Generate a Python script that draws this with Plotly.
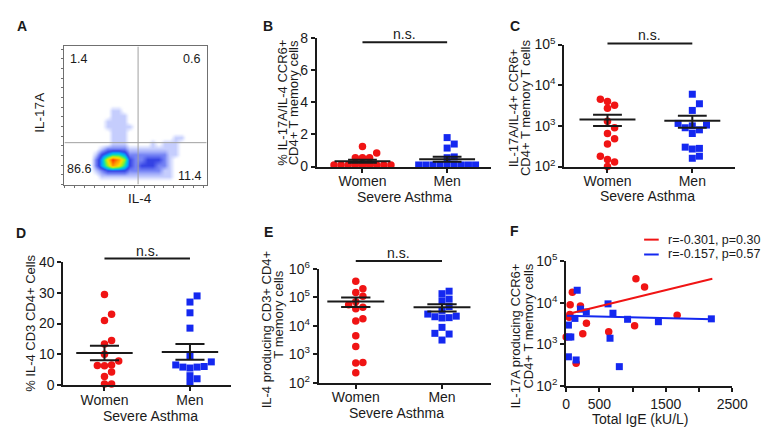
import numpy as np
import plotly.graph_objects as go

W, H = 778, 437
def PX(px): return px / W
def PY(py): return 1 - py / H

FONT = "Liberation Sans, Arial, sans-serif"
INK = "#1a1a1a"
RED = "#f01414"
BLUE = "#1428f0"

# ---------------- data ----------------
# Panel A: flow cytometry density levels (0-9), rows from bottom (IL-17A low) upward, 25 columns (IL-4 low -> high)
flow_rows = [
    "0000000000000000000000000",
    "0000001111111111111000000",
    "00000" + "12333322222211" + "000000",
    "00000" + "24687532333221" + "000000",
    "00000" + "24798632233321" + "000000",
    "00000" + "134554222222211" + "00000",
    "000000" + "12222" + "111111111" + "00000",
    "0000000011100001011100000",
    "0000000011100000000110000",
    "0000000011100000000000000",
    "0000000111110000000000000",
    "0000000111100000000000000",
    "0000000011100000000000000",
    "0000000011000000000000000",
]
gate_x, gate_y = 51.8, 30.3
quadrant_pct = ["1.4", "0.6", "86.6", "11.4"]

categories = ["Women", "Men"]

B_women = [1.25, 0.85, 0.55, 0.55, 0.55, 0.1, 0.1, 0.1, 0.1, 0.1, 0.1, 0.1, 0.1, 0.1]
B_men = [1.8, 1.4, 1.15, 0.6, 0.55, 0.1, 0.1, 0.1, 0.1, 0.1, 0.1, 0.1, 0.1, 0.1]

C_women = [4500, 4000, 3200, 2700, 1300, 900, 650, 480, 360, 180, 150, 130, 100]
C_men = [6000, 3500, 2400, 1150, 1050, 1000, 900, 800, 650, 300, 280, 270, 180, 160]

D_women = [29.5, 23, 21, 14.5, 13.3, 10, 7.8, 6.5, 6.3, 6.2, 4.2, 2.7, 0.3, 0.3]
D_men = [29, 27, 23.5, 18.5, 9.5, 7.5, 6.5, 6, 5.8, 5.8, 5.5, 3, 2, 0.8]

E_women = [3.7e5, 2.0e5, 1.5e5, 1.1e5, 7e4, 5.5e4, 4.5e4, 4.0e4, 1.8e4, 1.5e4, 4.5e3, 1.9e3, 520, 500, 230]
E_men = [1.65e5, 1.35e5, 8.7e4, 7.6e4, 4.8e4, 3.5e4, 2.6e4, 2.2e4, 2.1e4, 1.95e4, 1.9e4, 8.9e3, 5.5e3, 5.2e3, 3.2e3]

F_red_ige = [0, 45, 55, 60, 93, 150, 215, 250, 305, 640, 1030, 1050, 1180, 1670]
F_red_il17 = [1500, 4500, 5200, 9000, 18000, 350, 8300, 1800, 3200, 2000, 2800, 38000, 24000, 5000]
F_blue_ige = [34, 34, 40, 70, 132, 150, 166, 215, 303, 630, 660, 704, 800, 924, 1388, 2185]
F_blue_il17 = [2900, 500, 1500, 1500, 4200, 420, 20000, 7000, 6000, 9400, 1400, 5600, 290, 4000, 3500, 4100]
fit_ige = [10, 2200]
fit_red = [5300, 38000]
fit_blue = [4900, 4000]
legend_red = "r=-0.301, p=0.30"
legend_blue = "r=-0.157, p=0.57"

# ---------------- figure ----------------
fig = go.Figure()
layout = dict(width=W, height=H, margin=dict(l=0, r=0, t=0, b=0),
              paper_bgcolor="white", plot_bgcolor="white", showlegend=False,
              font=dict(family=FONT, color=INK, size=14))
shapes, ann = [], []

def text(s, x, y, size=14, angle=0, xanchor="center"):
    ann.append(dict(text=s, x=PX(x), y=PY(y), xref="paper", yref="paper", showarrow=False,
                    font=dict(size=size, color=INK, family=FONT), textangle=angle,
                    xanchor=xanchor, yanchor="middle"))

# ---- Panel A ----
nrow = 25
lev = [[int(c) for c in r.ljust(25, "0")[:25]] for r in flow_rows]
lev += [[0] * 25 for _ in range(nrow - len(lev))]
z = np.array(lev, float)
xc = np.arange(25) * 4 + 2
yc = np.arange(nrow) * 4 + 2
cs = [[0, "rgba(255,255,255,0)"], [0.05, "rgba(170,185,255,0.25)"], [1/9, "rgba(110,130,250,0.40)"],
      [2/9, "rgba(60,80,240,0.70)"], [3/9, "rgba(30,45,225,0.90)"], [4/9, "#00a8ff"], [5/9, "#10e0b0"],
      [6/9, "#9af020"], [7/9, "#ffe000"], [8/9, "#ff9a00"], [1, "#ff3000"]]
fig.add_trace(go.Heatmap(z=z, x=xc, y=yc, zmin=0, zmax=9, zsmooth="best", colorscale=cs,
                         showscale=False, hoverinfo="skip", xaxis="x", yaxis="y"))
boxax = dict(range=[0, 100], showline=True, mirror=True, linecolor="#707070", linewidth=1,
             showgrid=False, zeroline=False, showticklabels=False, ticks="outside",
             ticklen=2, tickcolor="#707070", dtick=7)
layout["xaxis"] = dict(boxax, domain=[PX(62), PX(208)], anchor="y")
layout["yaxis"] = dict(boxax, domain=[PY(182), PY(38)], anchor="x")
for g in [dict(x0=gate_x, x1=gate_x, y0=0, y1=100), dict(x0=0, x1=100, y0=gate_y, y1=gate_y)]:
    shapes.append(dict(type="line", xref="x", yref="y", line=dict(color="#a0a0a0", width=1), **g))
for s, (x, y) in zip(quadrant_pct, [(76, 51), (192, 51), (77, 166), (190, 173)]):
    text(s, x, y, size=12.5)
text("IL-17A", 37, 107, size=13.5, angle=-90)
text("IL-4", 140, 197, size=13.5)

# ---- dot panels B-E ----
def swarm(vals, center, px_unit, log, px_cat, d=7.3):
    v = np.array(vals, float)
    v = (np.log10(v) if log else v) * px_unit
    placed, xs = [], np.zeros(len(v))
    for i in np.argsort(v):
        for k in range(60):
            off = ((k + 1) // 2) * d * (1 if k % 2 else -1)
            if all((off - a) ** 2 + (v[i] - b) ** 2 >= 0.92 * d * d for a, b in placed):
                break
        placed.append((off, v[i]))
        xs[i] = center + off / px_cat
    return xs

def ytick_text(vals, log):
    if log:
        return [f"10<sup>{int(round(np.log10(t)))}</sup>" for t in vals]
    return [str(t) for t in vals]

panels = [
    dict(n=2, w=B_women, m=B_men, log=False, yr=[0, 8], tv=[0, 2, 4, 6, 8],
         xd=(321, 500), yd=(29, 163.3), xr=[-0.54, 1.52], bar=0.965, ns=25,
         t1=("% IL-17A/IL-4 CCR6+", 285, 97), t2=("CD4+ T memory cells", 297, 97), sa=(411, 195)),
    dict(n=3, w=C_women, m=C_men, log=True, yr=[2, 5], tv=[100, 1000, 10000, 100000],
         xd=(575, 750), yd=(36, 163.3), xr=[-0.51, 1.5], bar=1.008, ns=26.5,
         t1=("IL-17A/IL-4+ CCR6+", 523, 102), t2=("CD4+ T memory T cells", 536, 102), sa=(660, 194)),
    dict(n=4, w=D_women, m=D_men, log=False, yr=[0, 40], tv=[0, 10, 20, 30, 40],
         xd=(61, 233), yd=(263, 391), xr=[-0.48, 1.48], bar=1.029, ns=251.5,
         t1=("% IL-4 CD3 CD4+ Cells", 27, 327), t2=None, sa=(150, 423)),
    dict(n=5, w=E_women, m=E_men, log=True, yr=[2, 6], tv=[100, 1000, 10000, 100000, 1000000],
         xd=(323, 500), yd=(270, 389), xr=[-0.43, 1.57], bar=1.07, ns=253,
         t1=("IL-4 producing CD3+ CD4+", 269, 333), t2=("T memory cells", 282, 318), sa=(403, 420)),
]

for p in panels:
    n = p["n"]
    xa, ya = f"x{n}", f"y{n}"
    px_unit = (p["yd"][1] - p["yd"][0]) / (p["yr"][1] - p["yr"][0])
    px_cat = (p["xd"][1] - p["xd"][0]) / (p["xr"][1] - p["xr"][0])
    for ci, (vals, col, sym) in enumerate([(p["w"], RED, "circle"), (p["m"], BLUE, "square")]):
        xs = swarm(vals, ci, px_unit, p["log"], px_cat)
        fig.add_trace(go.Scatter(x=xs, y=vals, mode="markers", xaxis=xa, yaxis=ya, cliponaxis=False,
                                 marker=dict(symbol=sym, size=7.5 if sym == "circle" else 7,
                                             color=col, line=dict(width=0)),
                                 hoverinfo="skip"))
    lx, ly = [], []
    for ci, vals in enumerate([p["w"], p["m"]]):
        a = np.array(vals, float)
        mu = a.mean()
        se = a.std(ddof=1) / np.sqrt(len(a))
        lx += [ci - 0.33, ci + 0.33, None, ci - 0.17, ci + 0.17, None, ci - 0.17, ci + 0.17, None, ci, ci, None]
        ly += [mu, mu, None, mu + se, mu + se, None, mu - se, mu - se, None, mu - se, mu + se, None]
    fig.add_trace(go.Scatter(x=lx, y=ly, mode="lines", xaxis=xa, yaxis=ya, cliponaxis=False,
                             line=dict(color=INK, width=2), hoverinfo="skip"))
    layout[f"xaxis{n}"] = dict(domain=[PX(p["xd"][0]), PX(p["xd"][1])], range=p["xr"], anchor=ya,
                               tickvals=[0, 1], ticktext=categories, showline=True, linewidth=2,
                               linecolor=INK, ticks="outside", ticklen=4, tickwidth=2, tickcolor=INK,
                               ticklabelstandoff=-4 if n == 5 else -3,
                               showgrid=False, zeroline=False, tickfont=dict(size=14, color=INK))
    layout[f"yaxis{n}"] = dict(domain=[PY(p["yd"][1]), PY(p["yd"][0])], range=p["yr"], anchor=xa,
                               type="log" if p["log"] else "linear", tickvals=p["tv"],
                               ticktext=ytick_text(p["tv"], p["log"]), showline=True, linewidth=2,
                               linecolor=INK, ticks="outside", ticklen=4, tickwidth=2, tickcolor=INK,
                               showgrid=False, zeroline=False, tickfont=dict(size=14, color=INK))
    shapes.append(dict(type="line", xref=xa, yref=f"{ya} domain", x0=0, x1=1, y0=p["bar"], y1=p["bar"],
                       line=dict(color=INK, width=2)))
    ann.append(dict(text="n.s.", x=0.5, xref=xa, y=PY(p["ns"]), yref="paper", showarrow=False,
                    font=dict(size=14, color=INK, family=FONT), yanchor="middle"))
    text(p["t1"][0], p["t1"][1], p["t1"][2], size=13, angle=-90)
    if p["t2"]:
        text(p["t2"][0], p["t2"][1], p["t2"][2], size=13, angle=-90)
    text("Severe Asthma", p["sa"][0], p["sa"][1], size=14)

# ---- Panel F ----
fig.add_trace(go.Scatter(x=F_red_ige, y=F_red_il17, mode="markers", xaxis="x6", yaxis="y6", cliponaxis=False,
                         marker=dict(symbol="circle", size=7.5, color=RED), hoverinfo="skip"))
fig.add_trace(go.Scatter(x=F_blue_ige, y=F_blue_il17, mode="markers", xaxis="x6", yaxis="y6", cliponaxis=False,
                         marker=dict(symbol="square", size=7, color=BLUE), hoverinfo="skip"))
fig.add_trace(go.Scatter(x=fit_ige, y=fit_red, mode="lines", xaxis="x6", yaxis="y6",
                         line=dict(color=RED, width=2), hoverinfo="skip"))
fig.add_trace(go.Scatter(x=fit_ige, y=fit_blue, mode="lines", xaxis="x6", yaxis="y6",
                         line=dict(color=BLUE, width=2), hoverinfo="skip"))
ftv = [100, 1000, 10000, 100000]
layout["xaxis6"] = dict(domain=[PX(577), PX(747.5)], range=[0, 2500], anchor="y6",
                        tickvals=[0, 500, 1000, 1500, 2000, 2500], ticktext=["0", "500", "", "1500", "", "2500"],
                        showline=True, linewidth=2, linecolor=INK, ticks="outside", ticklen=4, tickwidth=2,
                        tickcolor=INK, showgrid=False, zeroline=False, tickfont=dict(size=14, color=INK))
layout["yaxis6"] = dict(domain=[PY(392), PY(262)], range=[2, 5], type="log", anchor="x6",
                        tickvals=ftv, ticktext=ytick_text(ftv, True), showline=True, linewidth=2,
                        linecolor=INK, ticks="outside", ticklen=4, tickwidth=2, tickcolor=INK,
                        showgrid=False, zeroline=False, tickfont=dict(size=14, color=INK))
text("IL-17A producing CCR6+", 525, 340, size=13, angle=-90)
text("CD4+ T memory cells", 538, 330, size=13, angle=-90)
text("Total IgE (kU/L)", 653, 427, size=14)
for lab, col, yy in [(legend_red, RED, 239.5), (legend_blue, BLUE, 255)]:
    shapes.append(dict(type="line", xref="paper", yref="paper", x0=PX(657), x1=PX(672), y0=PY(yy), y1=PY(yy),
                       line=dict(color=col, width=2)))
    text(lab, 679, yy, size=12.5, xanchor="left")

# panel letters
for s, (x, y) in zip("ABCDEF", [(18, 17), (271, 17), (524, 17), (17, 233), (271, 232), (524, 230)]):
    text(f"<b>{s}</b>", x, y, size=14)

layout["shapes"] = shapes
layout["annotations"] = ann
fig.update_layout(**layout)
fig.write_html("out.html", config={"displayModeBar": False},
               post_script="document.body.style.margin='0';document.body.style.overflow='hidden';")
